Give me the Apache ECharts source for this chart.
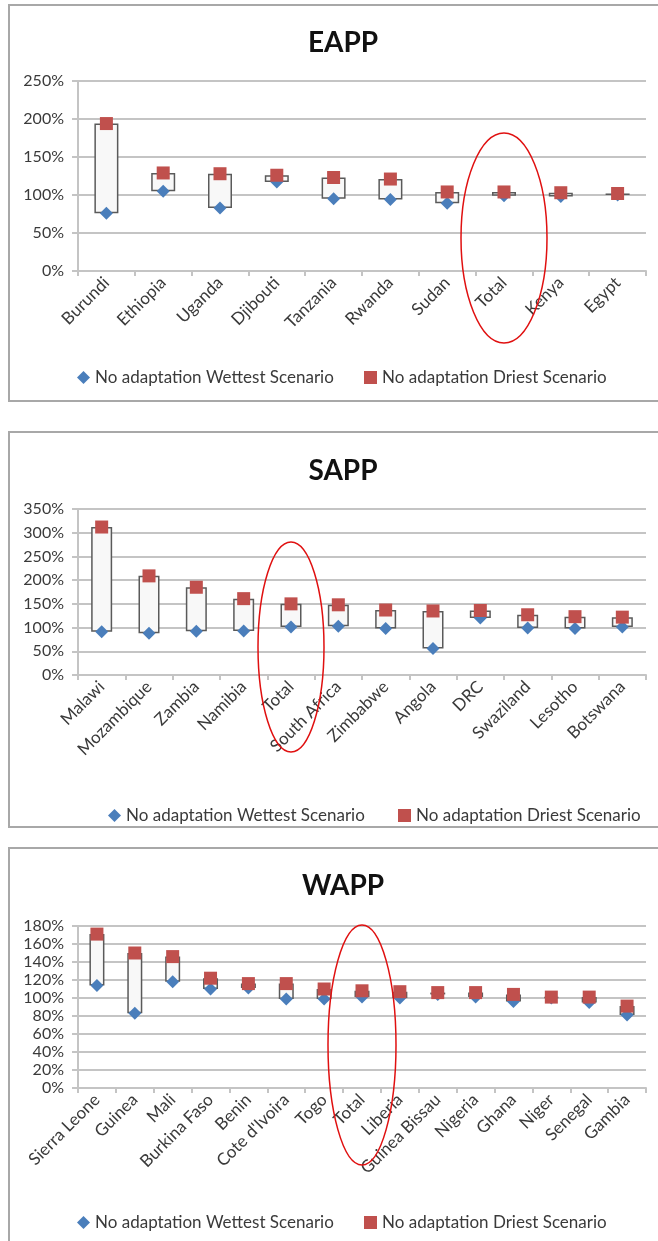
<!DOCTYPE html>
<html>
<head>
<meta charset="utf-8">
<script src="https://cdn.jsdelivr.net/npm/echarts@6/dist/echarts.min.js"></script>
<style>
html,body{margin:0;padding:0;background:#fff;}
#c{width:658px;height:1241px;}
</style>
</head>
<body>
<div id="c"></div>
<script>
// ---- Data ----
const titles = ['EAPP', 'SAPP', 'WAPP'];
const wetName = 'No adaptation Wettest Scenario';
const dryName = 'No adaptation Driest Scenario';

const eappCategories = ['Burundi','Ethiopia','Uganda','Djibouti','Tanzania','Rwanda','Sudan','Total','Kenya','Egypt'];
const eappWet = [0.76, 1.05, 0.83, 1.17, 0.95, 0.94, 0.89, 0.99, 0.98, 1.00];
const eappDry = [1.94, 1.29, 1.28, 1.26, 1.23, 1.21, 1.04, 1.04, 1.03, 1.02];

const sappCategories = ['Malawi','Mozambique','Zambia','Namibia','Total','South Africa','Zimbabwe','Angola','DRC','Swaziland','Lesotho','Botswana'];
const sappWet = [0.91, 0.88, 0.92, 0.93, 1.01, 1.03, 0.98, 0.56, 1.20, 0.99, 0.98, 1.01];
const sappDry = [3.12, 2.09, 1.85, 1.61, 1.50, 1.48, 1.37, 1.35, 1.36, 1.27, 1.23, 1.22];

const wappCategories = ['Sierra Leone','Guinea','Mali','Burkina Faso','Benin',"Cote d'Ivoira",'Togo','Total','Liberia','Guinea Bissau','Nigeria','Ghana','Niger','Senegal','Gambia'];
const wappWet = [1.14, 0.83, 1.18, 1.10, 1.11, 0.99, 0.99, 1.01, 1.00, 1.04, 1.01, 0.96, 1.00, 0.95, 0.81];
const wappDry = [1.71, 1.50, 1.46, 1.22, 1.16, 1.16, 1.10, 1.08, 1.07, 1.06, 1.06, 1.04, 1.01, 1.01, 0.91];

const yMax = [2.5, 3.5, 1.8];
const yInterval = [0.5, 0.5, 0.2];
// ---- Layout ----
const panels = [
  {cats: eappCategories, wet: eappWet, dry: eappDry, gridTop: 81, gridH: 190, titleTop: 24, legTop: 364, legL1: 72, legL2: 359, barW: 24,
   frame: {y: 5, h: 396}, ell: {dy: -33, rx: 43, ry: 105}},
  {cats: sappCategories, wet: sappWet, dry: sappDry, gridTop: 509, gridH: 166, titleTop: 452, legTop: 802, legL1: 103, legL2: 393, barW: 21,
   frame: {y: 432, h: 395}, ell: {dy: -28, rx: 33, ry: 105}},
  {cats: wappCategories, wet: wappWet, dry: wappDry, gridTop: 926, gridH: 162, titleTop: 867, legTop: 1209, legL1: 72, legL2: 359, barW: 15,
   frame: {y: 848, h: 420}, ell: {dy: -43, rx: 34, ry: 120}}
];

const FONT = 'Lato';
const gridColor = '#c4c4c4';
const chart = echarts.init(document.getElementById('c'), null, {renderer: 'canvas'});

const option = {
  backgroundColor: '#fff',
  animation: false,
  title: [], grid: [], xAxis: [], yAxis: [], legend: [], series: []
};

panels.forEach((p, i) => {
  option.title.push({
    text: titles[i], left: 338, top: p.titleTop, textAlign: 'center',
    textStyle: {fontFamily: FONT, fontWeight: 'bold', fontSize: 28, color: '#111'}
  });
  option.grid.push({left: 78, width: 568, top: p.gridTop, height: p.gridH});
  option.xAxis.push({
    type: 'category', gridIndex: i, data: p.cats, boundaryGap: true,
    axisLine: {show: true, lineStyle: {color: gridColor, width: 2}},
    axisTick: {show: true, alignWithLabel: false, length: 5, lineStyle: {color: gridColor, width: 2}},
    axisLabel: {rotate: 45, interval: 0, margin: 9, fontFamily: FONT, fontSize: 17, color: '#3a3a3a'},
    splitLine: {show: false}
  });
  option.yAxis.push({
    type: 'value', gridIndex: i, min: 0, max: yMax[i], interval: yInterval[i],
    axisLine: {show: true, lineStyle: {color: gridColor, width: 2}},
    axisTick: {show: true, length: 6, lineStyle: {color: gridColor, width: 2}},
    axisLabel: {margin: 14, fontFamily: FONT, fontSize: 16, color: '#3a3a3a',
      formatter: v => Math.round(v * 100) + '%'},
    splitLine: {show: true, lineStyle: {color: gridColor, width: 2}}
  });
  const legText = {fontFamily: FONT, fontSize: 17, color: '#3a3a3a'};
  option.legend.push({data: [wetName], left: p.legL1, top: p.legTop, itemWidth: 13, itemHeight: 13, itemGap: 0,
    textStyle: legText, selectedMode: false});
  option.legend.push({data: [dryName], left: p.legL2, top: p.legTop, itemWidth: 13, itemHeight: 13, itemGap: 0,
    textStyle: legText, selectedMode: false});

  const base = p.wet.map((w, k) => Math.min(w, p.dry[k]));
  const span = p.wet.map((w, k) => +(Math.abs(p.dry[k] - w)).toFixed(4));
  option.series.push({
    type: 'bar', xAxisIndex: i, yAxisIndex: i, stack: 'range' + i, data: base, barWidth: p.barW,
    itemStyle: {color: 'rgba(0,0,0,0)'}, silent: true, z: 1
  });
  option.series.push({
    type: 'bar', xAxisIndex: i, yAxisIndex: i, stack: 'range' + i, data: span, barWidth: p.barW,
    itemStyle: {color: '#f8f8f8', borderColor: '#5a5a5a', borderWidth: 1.5}, silent: true, z: 2
  });
  option.series.push({
    name: wetName, type: 'scatter', xAxisIndex: i, yAxisIndex: i, data: p.wet,
    symbol: 'diamond', symbolSize: 13, itemStyle: {color: '#4A7EBB', opacity: 1}, z: 3
  });
  option.series.push({
    name: dryName, type: 'scatter', xAxisIndex: i, yAxisIndex: i, data: p.dry,
    symbol: 'rect', symbolSize: 13, itemStyle: {color: '#C0504D', opacity: 1}, z: 4
  });
});

chart.setOption(option);

// Frames and red annotation ellipses around "Total"
const graphics = [];
panels.forEach((p, i) => {
  graphics.push({type: 'rect', silent: true, z: 0,
    shape: {x: 9, y: p.frame.y, width: 660, height: p.frame.h},
    style: {fill: 'none', stroke: '#a8a8a8', lineWidth: 2}});
  const pt = chart.convertToPixel({xAxisIndex: i, yAxisIndex: i}, ['Total', 0]);
  graphics.push({type: 'ellipse', silent: true, z: 10,
    shape: {cx: pt[0], cy: pt[1] + p.ell.dy, rx: p.ell.rx, ry: p.ell.ry},
    style: {fill: 'none', stroke: '#e01010', lineWidth: 1.5}});
});
chart.setOption({graphic: graphics});
</script>
</body>
</html>
